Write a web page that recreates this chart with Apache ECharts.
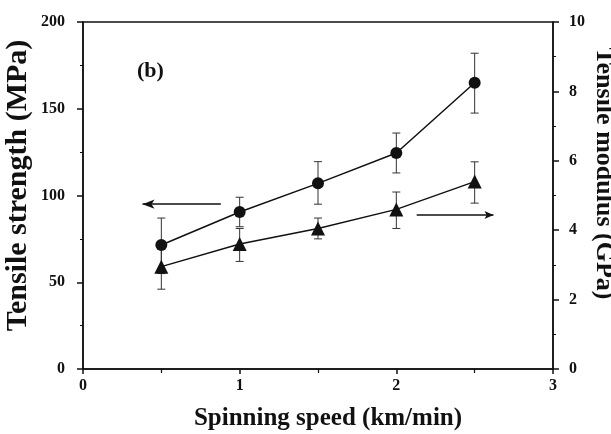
<!DOCTYPE html>
<html><head><meta charset="utf-8">
<script src="https://cdn.jsdelivr.net/npm/echarts@6/dist/echarts.min.js"></script>
<style>html,body{margin:0;padding:0;background:#fff}#c{width:611px;height:434px}</style>
</head><body><div id="c"></div>
<script>
const speed = [0.5, 1, 1.5, 2, 2.5];
const strength = [71.5, 90.5, 107, 124.5, 165];
const strengthLow = [55, 82, 95, 113, 147.5];
const strengthHigh = [87, 99, 119.5, 136, 182];
const modulus = [2.95, 3.6, 4.05, 4.6, 5.4];
const modulusLow = [2.3, 3.1, 3.75, 4.05, 4.78];
const modulusHigh = [3.5, 4.05, 4.35, 5.1, 5.97];
const leftArrow = {y: 95, from: 0.88, to: 0.38};
const rightArrow = {y: 4.44, from: 2.13, to: 2.62};

const font = 'Liberation Serif';
const chart = echarts.init(document.getElementById('c'));

function errSeries(yIdx, low, high) {
  return {
    type: 'custom', yAxisIndex: yIdx, z: 1, silent: true,
    data: speed.map((x, i) => [x, low[i], high[i]]),
    renderItem: function (params, api) {
      const x = api.value(0);
      const p1 = api.coord([x, api.value(1)]);
      const p2 = api.coord([x, api.value(2)]);
      const w = 4;
      const st = {stroke: '#333', lineWidth: 1};
      return {type: 'group', children: [
        {type: 'line', shape: {x1: p1[0], y1: p1[1], x2: p2[0], y2: p2[1]}, style: st},
        {type: 'line', shape: {x1: p1[0]-w, y1: p1[1], x2: p1[0]+w, y2: p1[1]}, style: st},
        {type: 'line', shape: {x1: p2[0]-w, y1: p2[1], x2: p2[0]+w, y2: p2[1]}, style: st}
      ]};
    }
  };
}

const labelStyle = {fontFamily: font, fontWeight: 'bold', fontSize: 16, color: '#111'};
function nameStyle(size, pad) {
  return {fontFamily: font, fontWeight: 'bold', fontSize: size, color: '#111', padding: pad};
}

chart.setOption({
  animation: false,
  backgroundColor: '#fff',
  grid: {left: 83, right: 58, top: 22, bottom: 65, outerBoundsMode: 'none', containLabel: false,
         show: true, borderColor: '#111', borderWidth: 1.5},
  graphic: [{type: 'text', left: 137, top: 60, style: {text: '(b)', fontFamily: font, fontWeight: 'bold', fontSize: 22, fill: '#111'}}],
  xAxis: {
    type: 'value', min: 0, max: 3, interval: 1,
    name: 'Spinning speed (km/min)', nameLocation: 'middle', nameGap: 37, nameMoveOverlap: false,
    nameTextStyle: nameStyle(25, [0, 0, 0, 20]),
    axisLine: {onZero: false, lineStyle: {color: '#111', width: 1.5}},
    axisTick: {length: 5, lineStyle: {color: '#111', width: 1.5}},
    minorTick: {show: true, splitNumber: 2, length: 4, lineStyle: {color: '#111', width: 1.2}},
    axisLabel: Object.assign({margin: 9}, labelStyle),
    splitLine: {show: false}
  },
  yAxis: [{
    type: 'value', min: 0, max: 200, interval: 50, position: 'left',
    name: 'Tensile strength (MPa)', nameLocation: 'middle', nameGap: 50, nameRotate: 90, nameMoveOverlap: false,
    nameTextStyle: nameStyle(30, [0, 0, 0, 20]),
    axisLine: {show: true, lineStyle: {color: '#111', width: 1.5}},
    axisTick: {show: true, length: 6, lineStyle: {color: '#111', width: 1.5}},
    minorTick: {show: true, splitNumber: 2, length: 3, lineStyle: {color: '#111', width: 1}},
    axisLabel: Object.assign({margin: 18}, labelStyle),
    splitLine: {show: false}
  }, {
    type: 'value', min: 0, max: 10, interval: 2, position: 'right',
    name: 'Tensile modulus (GPa)', nameLocation: 'middle', nameGap: 38, nameRotate: -90, nameMoveOverlap: false,
    nameTextStyle: nameStyle(26, [0, 44, 0, 0]),
    axisLine: {show: true, lineStyle: {color: '#111', width: 1.5}},
    axisTick: {show: true, length: 6, lineStyle: {color: '#111', width: 1.5}},
    minorTick: {show: true, splitNumber: 2, length: 3, lineStyle: {color: '#111', width: 1}},
    axisLabel: Object.assign({margin: 16}, labelStyle),
    splitLine: {show: false}
  }],
  series: [
    errSeries(0, strengthLow, strengthHigh),
    errSeries(1, modulusLow, modulusHigh),
    {
      type: 'line', yAxisIndex: 0, z: 3,
      data: speed.map((x, i) => [x, strength[i]]),
      symbol: 'circle', symbolSize: 12,
      itemStyle: {color: '#111'}, lineStyle: {color: '#111', width: 1.5},
      markLine: {
        silent: true, symbol: ['none', 'arrow'], symbolSize: [7, 12],
        lineStyle: {color: '#111', width: 1.5, type: 'solid'}, label: {show: false},
        data: [[{coord: [leftArrow.from, leftArrow.y]}, {coord: [leftArrow.to, leftArrow.y]}]]
      }
    },
    {
      type: 'line', yAxisIndex: 1, z: 3,
      data: speed.map((x, i) => [x, modulus[i]]),
      symbol: 'triangle', symbolSize: 14,
      itemStyle: {color: '#111'}, lineStyle: {color: '#111', width: 1.5},
      markLine: {
        silent: true, symbol: ['none', 'arrow'], symbolSize: [6, 9],
        lineStyle: {color: '#111', width: 1.5, type: 'solid'}, label: {show: false},
        data: [[{coord: [rightArrow.from, rightArrow.y]}, {coord: [rightArrow.to, rightArrow.y]}]]
      }
    }
  ]
});
</script>
</body></html>
